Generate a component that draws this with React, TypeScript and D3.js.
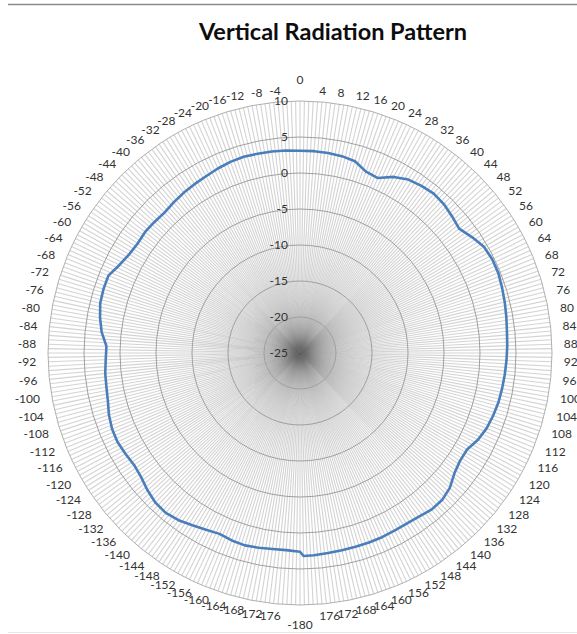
import React from "react";
import * as d3 from "d3";

const TITLE = "Vertical Radiation Pattern";

// Angle (degrees) of each measured point, clockwise from top
const ANGLES_DEG = [
  0, 4, 8, 12, 16, 20, 24, 28, 32, 36, 40, 44, 48, 52, 56, 60, 64, 68, 72, 76,
  80, 84, 88, 92, 96, 100, 104, 108, 112, 116, 120, 124, 128, 132, 136, 140,
  144, 148, 152, 156, 160, 164, 168, 172, 176, 179, -180, -176, -172, -168,
  -164, -160, -156, -152, -148, -144, -140, -136, -132, -128, -124, -120, -116,
  -112, -108, -104, -100, -96, -92, -88, -84, -80, -76, -72, -68, -64, -60,
  -56, -52, -48, -44, -40, -36, -32, -28, -24, -20, -16, -12, -8, -4,
];
// Gain (dB)
const GAIN_DB = [
  3.1, 3.1, 3.05, 2.95, 2.7, 1.8, 1.6, 2.7, 3.4, 3.7, 3.9, 3.75, 3.4, 3.05,
  3.8, 4.5, 4.7, 4.7, 4.5, 4.3, 4.1, 3.9, 3.8, 3.7, 3.6, 3.5, 3.4, 3.2, 2.95,
  2.5, 1.8, 1.8, 2.2, 3.0, 3.4, 3.4, 3.1, 2.95, 2.95, 3.0, 3.0, 3.0, 3.0,
  3.05, 3.15, 3.2, 2.6, 2.45, 2.5, 2.65, 2.8, 2.7, 2.5, 2.8, 3.2, 3.7, 4.0,
  3.9, 3.5, 3.0, 2.8, 3.0, 3.2, 3.15, 2.9, 2.5, 2.3, 2.2, 2.0, 1.9, 2.7, 3.2,
  3.6, 3.7, 3.7, 2.9, 2.4, 2.2, 2.3, 2.2, 2.1, 2.3, 2.5, 2.65, 2.8, 3.05,
  3.25, 3.35, 3.3, 3.25, 3.2,
];

// Radial axis ticks (dB)
const RADIAL_TICKS = [-25, -20, -15, -10, -5, 0, 5, 10];
const RADIAL_MIN = -25;
const RADIAL_MAX = 10;

// Category labels shown around the chart
const CATEGORY_LABELS = [
  0, 4, 8, 12, 16, 20, 24, 28, 32, 36, 40, 44, 48, 52, 56, 60, 64, 68, 72, 76,
  80, 84, 88, 92, 96, 100, 104, 108, 112, 116, 120, 124, 128, 132, 136, 140,
  144, 148, 152, 156, 160, 164, 168, 172, 176, -180, -176, -172, -168, -164,
  -160, -156, -152, -148, -144, -140, -136, -132, -128, -124, -120, -116, -112,
  -108, -104, -100, -96, -92, -88, -84, -80, -76, -72, -68, -64, -60, -56, -52,
  -48, -44, -40, -36, -32, -28, -24, -20, -16, -12, -8, -4,
];
const CATEGORY_COUNT = 360;

const W = 577;
const H = 634;
const CX = 300;
const CY = 353;
const R = 252;
const LABEL_R = 263;
const FONT = "Lato, 'Open Sans', sans-serif";

export default function App() {
  const angle = d3.scaleLinear().domain([0, 360]).range([0, 2 * Math.PI]);
  const radius = d3.scaleLinear().domain([RADIAL_MIN, RADIAL_MAX]).range([0, R]);
  const norm = (d: number) => ((d % 360) + 360) % 360;

  const pts = ANGLES_DEG.map((a, i) => ({ a: norm(a), v: GAIN_DB[i] }));
  const line = d3
    .lineRadial<{ a: number; v: number }>()
    .angle((d) => angle(d.a))
    .radius((d) => radius(d.v))
    .curve(d3.curveLinearClosed);

  const spokes = d3.range(CATEGORY_COUNT).map((i) => angle((i * 360) / CATEGORY_COUNT));

  return (
    <svg
      width={W}
      height={H}
      style={{ position: "absolute", left: 0, top: 0, background: "#fff" }}
    >
      <line x1={8} x2={W} y1={4.5} y2={4.5} stroke="#8a8a8a" strokeWidth={1.5} />
      <line x1={8} x2={W} y1={632.5} y2={632.5} stroke="#e6e6e6" strokeWidth={1} />
      <text
        x={333}
        y={40}
        textAnchor="middle"
        fontFamily={FONT}
        fontWeight="bold"
        fontSize={23.5}
        fill="#0d0d0d"
      >
        {TITLE}
      </text>
      <g transform={`translate(${CX},${CY})`}>
        {spokes.map((t, i) => (
          <line
            key={i}
            x1={0}
            y1={0}
            x2={R * Math.sin(t)}
            y2={-R * Math.cos(t)}
            stroke="#6e6e6e"
            strokeOpacity={0.3}
            strokeWidth={1.1}
          />
        ))}
        {RADIAL_TICKS.filter((v) => v > RADIAL_MIN).map((v) => (
          <circle
            key={v}
            r={radius(v)}
            fill="none"
            stroke={v === RADIAL_MAX ? "#b0b0b0" : "#a0a0a0"}
            strokeWidth={1}
          />
        ))}
        <path d={line(pts) || ""} fill="none" stroke="#4a7ebb" strokeWidth={2.6} strokeLinejoin="round" />
        {RADIAL_TICKS.map((v) => (
          <text
            key={v}
            x={-12}
            y={-radius(v)}
            dy="0.35em"
            textAnchor="end"
            fontFamily={FONT}
            fontSize={12}
            fill="#333"
          >
            {v}
          </text>
        ))}
        {CATEGORY_LABELS.map((c) => {
          const a = norm(c);
          const t = angle(a);
          let x = LABEL_R * Math.sin(t);
          let y = -LABEL_R * Math.cos(t);
          let anchor = "start";
          if (a === 0) {
            anchor = "middle";
            y = -273;
          } else if (a === 180) {
            anchor = "middle";
            y = 272;
          } else if (a > 180) {
            anchor = "end";
            x -= 1;
          } else {
            x += 1;
          }
          return (
            <text
              key={c}
              x={x}
              y={y}
              dy="0.35em"
              textAnchor={anchor}
              fontFamily={FONT}
              fontSize={12}
              fill="#333"
            >
              {c}
            </text>
          );
        })}
      </g>
    </svg>
  );
}
